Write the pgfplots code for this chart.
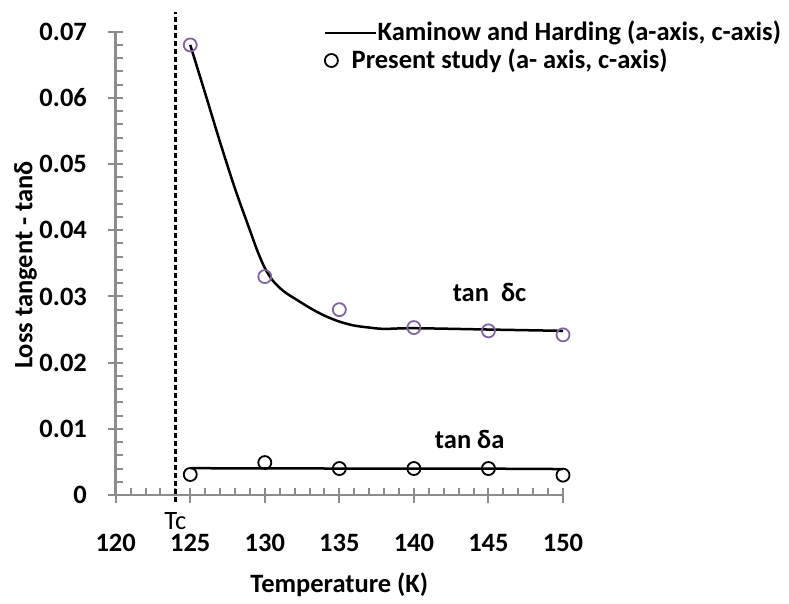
\documentclass[border=0pt]{standalone}
\usepackage{fontspec}
\setmainfont{Carlito}
\usepackage{pgfplots}
\pgfplotsset{compat=1.18}
\definecolor{kpurple}{HTML}{8064A2}
\definecolor{axgray}{HTML}{8C8C8C}
\begin{document}
\fontsize{26.5bp}{32bp}\selectfont
\begin{tikzpicture}
\begin{axis}[
 at={(0,0)}, anchor=south west,
 scale only axis, width=447.3bp, height=463.3bp,
 xmin=120, xmax=150, ymin=0, ymax=0.07,
 axis x line*=bottom, axis y line*=left,
 axis line style={axgray, line width=2.5bp},
 xtick={120,125,130,135,140,145,150}, minor x tick num=4,
 ytick={0,0.01,0.02,0.03,0.04,0.05,0.06,0.07},
 yticklabels={0,0.01,0.02,0.03,0.04,0.05,0.06,0.07},
 scaled y ticks=false, scaled x ticks=false,
 minor y tick num=4,
 tick align=center,
 major tick length=15bp, minor tick length=7bp,
 tick style={axgray, line width=2bp},
 every minor x tick/.append style={yshift=3.5bp},
 every minor y tick/.append style={xshift=3.5bp},
 clip=false,
 /pgf/number format/assume math mode=true,
 tick label style={font=\bfseries},
 xticklabel style={anchor=base, inner ysep=0pt, yshift=-49bp},
 yticklabel style={anchor=east, xshift=-12.3bp},
 xlabel={\bfseries Temperature (K)},
 ylabel={\bfseries Loss\ tangent - tanδ},
 x label style={at={(axis description cs:0.5,-0.2115)}, anchor=base},
 y label style={at={(axis description cs:-0.1865,0.4964)}, anchor=base},
 legend style={at={(rel axis cs:0.4657,1.023)}, anchor=north west, draw=none, fill=none,
   inner sep=0pt, outer sep=0pt, row sep=4bp, column sep=0pt, font=\bfseries,
   nodes={inner sep=0pt}},
 legend cell align=left,
]
\addplot[black, dash pattern=on 5bp off 3bp, line width=2.5bp, forget plot]
 coordinates {(124,-0.001) (124,0.0730)};
\addplot[black, line width=2.5bp, smooth, tension=0.5,
  legend image code/.code={\draw[black, line width=2.5bp] (0bp,0bp) -- (51bp,0bp);}]
 coordinates {(125,0.0680) (126,0.0607) (127,0.0533) (128,0.0463) (129,0.0400)
  (129.5,0.0369) (130,0.0343) (130.5,0.0325) (131,0.0313) (131.5,0.0304)
  (132,0.0297) (133,0.0283) (134,0.0271) (135,0.0262)
  (136,0.0256) (137,0.0253) (138,0.0251) (140,0.0252) (145,0.0250) (150,0.0248)};
\addlegendentry{Kaminow and Harding (a-axis, c-axis)}
\addplot[black, line width=2.5bp, forget plot]
 coordinates {(125,0.00405) (130,0.00402) (135,0.0040) (140,0.0040) (145,0.00398) (150,0.00392)};
\addplot[only marks, mark=o, black, mark size=6.5bp, mark options={line width=1.8bp},
  legend image code/.code={\path[draw=none] (0bp,0bp) rectangle (51bp,0.1bp);
    \draw[black, line width=1.8bp] (6bp,0bp) circle[radius=6.5bp];}]
 coordinates {(125,0.0031) (130,0.0049) (135,0.0040) (140,0.0040) (145,0.0040) (150,0.0030)};
\addlegendentry{\hspace*{-26bp}Present study (a- axis, c-axis)}
\addplot[only marks, mark=o, kpurple, mark size=6.5bp, mark options={line width=1.8bp}, forget plot]
 coordinates {(125,0.0680) (130,0.0330) (135,0.0280) (140,0.0253) (145,0.0248) (150,0.0242)};
\node[font=\bfseries, anchor=base] at (axis cs:145.07,0.0292) {tan\ \ δc};
\node[font=\bfseries, anchor=base] at (axis cs:143.74,0.0071) {tan δa};
\node[anchor=base, inner sep=0pt, yshift=-34bp] at (axis cs:124,0) {Tc};
\end{axis}
\pgfresetboundingbox
\path[use as bounding box] (-115.7bp,-109bp) rectangle (673.3bp,495bp);
\end{tikzpicture}
\end{document}
